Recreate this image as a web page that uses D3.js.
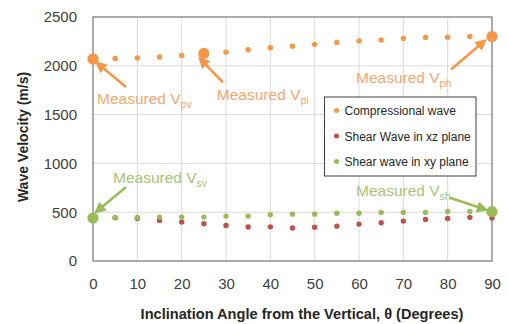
<!DOCTYPE html>
<html>
<head>
<meta charset="utf-8">
<script src="https://cdn.jsdelivr.net/npm/d3@7"></script>
<style>
  html, body { margin: 0; padding: 0; background: #fff; }
  svg { display: block; font-family: "Liberation Sans", Arial, sans-serif; }
</style>
</head>
<body>
<svg id="chart" width="508" height="324"></svg>
<script>
// inclination angle (degrees)
const angles = [0, 5, 10, 15, 20, 25, 30, 35, 40, 45, 50, 55, 60, 65, 70, 75, 80, 85, 90];
const compressional = [2070, 2075, 2080, 2090, 2105, 2125, 2140, 2165, 2185, 2200, 2220, 2240, 2255, 2265, 2280, 2290, 2292, 2300, 2300];
const shearXZ = [440, 442, 435, 416, 399, 382, 364, 348, 350, 338, 347, 357, 378, 392, 409, 426, 436, 447, 440];
const shearXY = [440, 445, 445, 450, 450, 450, 460, 460, 475, 480, 480, 490, 490, 498, 498, 498, 508, 508, 505];

const seriesNames = ['Compressional wave', 'Shear Wave in xz plane', 'Shear wave in xy plane'];
const seriesColors = ['#F79646', '#C0504D', '#9BBB59'];

// measured velocities (large markers)
const measuredLabels = ['pv', 'pi', 'ph', 'sv', 'sh'];
const measuredAngles = [0, 25, 90, 0, 90];
const measuredValues = [2070, 2127, 2300, 440, 505];

const xTicks = [0, 10, 20, 30, 40, 50, 60, 70, 80, 90];
const yTicks = [0, 500, 1000, 1500, 2000, 2500];

const svg = d3.select('#chart');
const margin = { left: 93, right: 16, top: 17, bottom: 63 };
const width = 508, height = 324;

const x = d3.scaleLinear().domain([0, 90]).range([margin.left, width - margin.right]);
const y = d3.scaleLinear().domain([0, 2500]).range([height - margin.bottom, margin.top]);

// gridlines
svg.append('g')
  .selectAll('line')
  .data(xTicks.slice(1, -1))
  .enter()
  .append('line')
  .attr('x1', d => x(d)).attr('x2', d => x(d))
  .attr('y1', y(0)).attr('y2', y(2500))
  .attr('stroke', '#D9D9D9').attr('stroke-width', 1);
svg.append('g')
  .selectAll('line')
  .data(yTicks.slice(1, -1))
  .enter()
  .append('line')
  .attr('x1', x(0)).attr('x2', x(90))
  .attr('y1', d => y(d)).attr('y2', d => y(d))
  .attr('stroke', '#D9D9D9').attr('stroke-width', 1);

// plot border
svg.append('rect')
  .attr('x', x(0)).attr('y', y(2500))
  .attr('width', x(90) - x(0)).attr('height', y(0) - y(2500))
  .attr('fill', 'none').attr('stroke', '#808080').attr('stroke-width', 1.3);

// axes
const xAxis = svg.append('g')
  .attr('transform', 'translate(0,' + y(0) + ')')
  .call(d3.axisBottom(x).tickValues(xTicks).tickSize(0).tickPadding(17));
const yAxis = svg.append('g')
  .attr('transform', 'translate(' + x(0) + ',0)')
  .call(d3.axisLeft(y).tickValues(yTicks).tickSize(0).tickPadding(16).tickFormat(d3.format('d')));
[xAxis, yAxis].forEach(a => {
  a.select('.domain').remove();
  a.selectAll('text')
    .attr('font-family', '"Liberation Sans", Arial, sans-serif')
    .attr('font-size', 15)
    .attr('fill', '#404040');
});

// axis titles
svg.append('text')
  .attr('x', 302).attr('y', 319)
  .attr('text-anchor', 'middle')
  .attr('font-size', 14.6).attr('font-weight', 'bold').attr('fill', '#262626')
  .text('Inclination Angle from the Vertical, θ (Degrees)');
svg.append('text')
  .attr('transform', 'translate(28,137) rotate(-90)')
  .attr('text-anchor', 'middle')
  .attr('font-size', 14).attr('font-weight', 'bold').attr('fill', '#262626')
  .text('Wave Velocity (m/s)');

// series points
const allSeries = [compressional, shearXZ, shearXY];
allSeries.forEach((vals, i) => {
  svg.append('g')
    .selectAll('circle')
    .data(angles)
    .enter()
    .append('circle')
    .attr('cx', d => x(d))
    .attr('cy', (d, j) => y(vals[j]))
    .attr('r', 2.7)
    .attr('fill', seriesColors[i]);
});

// measured points
const measured = measuredLabels.map((l, i) => ({ label: l, angle: measuredAngles[i], value: measuredValues[i] }));
svg.append('g')
  .selectAll('circle')
  .data(measured)
  .enter()
  .append('circle')
  .attr('cx', d => x(d.angle))
  .attr('cy', d => y(d.value))
  .attr('r', 5.6)
  .attr('fill', d => d.label[0] === 'p' ? seriesColors[0] : seriesColors[2]);

// annotation arrows + labels, offsets relative to each measured point
const notes = {
  pv: { head: [4, 4], tail: [33, 28], text: [4, 45] },
  pi: { head: [-4, 5], tail: [19, 29], text: [13, 47] },
  ph: { head: [-7, 4], tail: [-41, 33], text: [-136, 46] },
  sv: { head: [3, -6], tail: [33, -31], text: [20, -35] },
  sh: { head: [-6, -2], tail: [-42, -14], text: [-136, -16] }
};

const defs = svg.append('defs');
['orange', 'green'].forEach((name, i) => {
  defs.append('marker')
    .attr('id', 'arrow-' + name)
    .attr('viewBox', '0 0 10 10')
    .attr('refX', 8).attr('refY', 5)
    .attr('markerWidth', 4.4).attr('markerHeight', 4.4)
    .attr('orient', 'auto')
    .append('path')
    .attr('d', 'M0,0 L10,5 L0,10 z')
    .attr('fill', i === 0 ? seriesColors[0] : seriesColors[2]);
});

measured.forEach(m => {
  const n = notes[m.label];
  const px = x(m.angle), py = y(m.value);
  const isP = m.label[0] === 'p';
  svg.append('line')
    .attr('x1', px + n.tail[0]).attr('y1', py + n.tail[1])
    .attr('x2', px + n.head[0]).attr('y2', py + n.head[1])
    .attr('stroke', isP ? seriesColors[0] : seriesColors[2])
    .attr('stroke-width', 2.6)
    .attr('marker-end', 'url(#arrow-' + (isP ? 'orange' : 'green') + ')');
  const t = svg.append('text')
    .attr('x', px + n.text[0]).attr('y', py + n.text[1])
    .attr('font-size', 15.5)
    .attr('fill', isP ? '#F9A66E' : '#A6C576');
  t.append('tspan').text('Measured V');
  t.append('tspan').attr('dy', 4).attr('font-size', 10.5).text(m.label);
});

// legend
const legend = svg.append('g').attr('transform', 'translate(324.5,97)');
legend.append('rect')
  .attr('width', 151.5).attr('height', 79)
  .attr('fill', '#fff').attr('stroke', '#404040').attr('stroke-width', 1);
const item = legend.selectAll('g.item')
  .data(seriesNames)
  .enter()
  .append('g')
  .attr('class', 'item')
  .attr('transform', (d, i) => 'translate(0,' + (14 + i * 25.5) + ')');
item.append('circle')
  .attr('cx', 12).attr('cy', -0.5).attr('r', 2.5)
  .attr('fill', (d, i) => seriesColors[i]);
item.append('text')
  .attr('x', 20).attr('dy', '0.35em')
  .attr('font-size', 12).attr('fill', '#262626')
  .text(d => d);
</script>
</body>
</html>
